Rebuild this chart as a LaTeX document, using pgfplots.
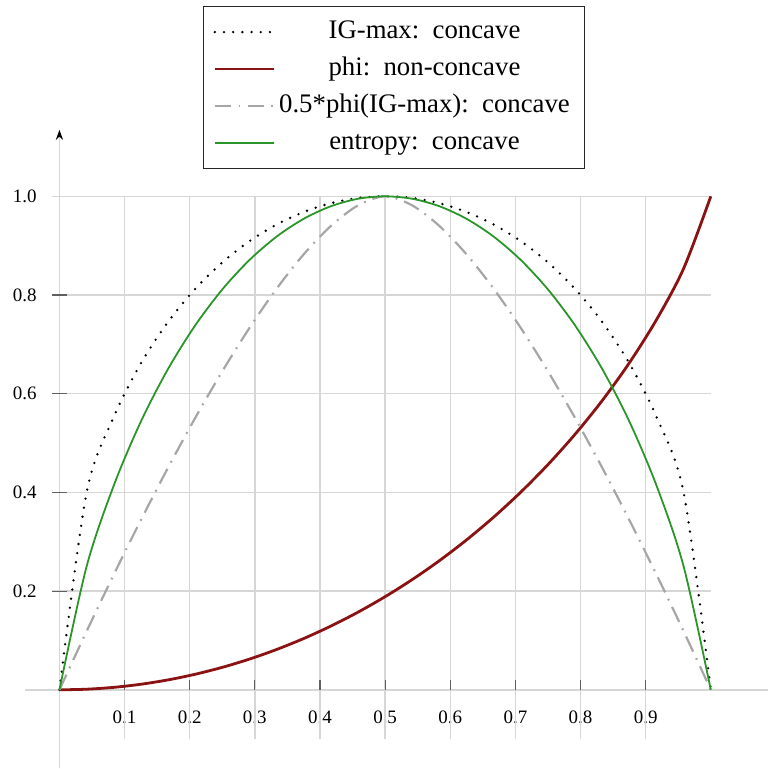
\documentclass[border=0pt]{standalone}
\usepackage{fontspec}
\setmainfont{Liberation Serif}
\usepackage{pgfplots}
\pgfplotsset{compat=1.18}
\usepackage{pgfplotstable}
\usetikzlibrary{arrows.meta}
\definecolor{gridc}{HTML}{D6D6D6}
\definecolor{tickc}{HTML}{606060}
\definecolor{myred}{HTML}{8B1212}
\definecolor{mygreen}{HTML}{2A962A}
\definecolor{mygray}{HTML}{A6A6A6}
\pgfplotstableread{
x        ig       phi      g        h
0        0        0        0        0
0.041667 0.399653 0.001252 0.118498 0.249883
0.083333 0.552771 0.005015 0.233288 0.413817
0.125    0.661438 0.011300 0.343941 0.543565
0.166667 0.745356 0.020131 0.449953 0.650023
0.208333 0.812233 0.031539 0.550699 0.738285
0.25     0.866025 0.045566 0.645422 0.811279
0.291667 0.909059 0.062265 0.733167 0.870865
0.333333 0.942809 0.081704 0.812703 0.918296
0.375    0.968246 0.103962 0.882381 0.954434
0.416667 0.986013 0.129135 0.939877 0.979869
0.458333 0.996522 0.157342 0.981551 0.994985
0.5      1        0.188721 1        1
0.541667 0.996522 0.223444 0.981551 0.994985
0.583333 0.986013 0.261715 0.939877 0.979869
0.625    0.968246 0.303788 0.882381 0.954434
0.666667 0.942809 0.349977 0.812703 0.918296
0.708333 0.909059 0.400685 0.733167 0.870865
0.75     0.866025 0.456435 0.645422 0.811279
0.791667 0.812233 0.517933 0.550699 0.738285
0.833333 0.745356 0.586183 0.449953 0.650023
0.875    0.661438 0.662709 0.343941 0.543565
0.916667 0.552771 0.750117 0.233288 0.413817
0.958333 0.399653 0.853905 0.118498 0.249883
1        0        1        0        0
}\data
\newcommand{\legtext}[1]{\makebox[142.5pt][c]{#1}}
\begin{document}
\begin{tikzpicture}
\begin{axis}[
  x=326pt, y=247pt,
  xmin=-0.0529, xmax=1.0882, ymin=-0.1589, ymax=1.1346,
  axis lines=middle,
  axis line style={draw=gridc, line width=0.75pt},
  x axis line style={-},
  y axis line style={-{Stealth[black,length=5pt,width=3.6pt]}},
  xtick={0.1,0.2,0.3,0.4,0.5,0.6,0.7,0.8,0.9},
  xticklabels={0.1,0.2,0.3,0.4,0.5,0.6,0.7,0.8,0.9},
  ytick={0.2,0.4,0.6,0.8,1.0},
  yticklabels={0.2,0.4,0.6,0.8,1.0},
  major tick length=0pt,
  tick style={draw=none},
  xticklabel style={font=\fontsize{9.5}{11}\selectfont, inner sep=0pt, anchor=center, yshift=-14pt},
  yticklabel style={font=\fontsize{9.5}{11}\selectfont, inner sep=0pt, anchor=east, xshift=-11.25pt},
  clip=false,
  legend style={
    at={(axis cs:0.2201,1.3856)}, anchor=north west,
    draw=black!85, line width=0.6pt,
    font=\fontsize{13.4}{16}\selectfont,
    inner xsep=5pt, inner ysep=6.5pt,
    row sep=6pt,
    nodes={inner sep=0pt, text height=9.5pt, text depth=3pt},
    /tikz/column 1/.style={column sep=3.5pt},
    /tikz/column 2/.style={nodes={text width=146.5pt, align=left}},
  },
  legend cell align=left,
  legend image code/.code={\draw[#1] (0pt,0pt) -- (29.5pt,0pt);},
]
\path (axis cs:-0.09126,-0.1589) rectangle (axis cs:1.0882,1.3978);
\pgfplotsinvokeforeach{0.1,0.2,0.3,0.4,0.5,0.6,0.7,0.8,0.9}{
  \draw[gridc, line width=0.75pt] (axis cs:#1,-0.1) -- (axis cs:#1,1.0);
  \draw[tickc, line width=0.6pt] (axis cs:#1,0) -- ++(0pt,5pt);
}
\pgfplotsinvokeforeach{0.2,0.4,0.6,0.8,1.0}{
  \draw[gridc, line width=0.75pt] (axis cs:-0.0115,#1) -- (axis cs:1,#1);
}
\pgfplotsinvokeforeach{0.2,0.4,0.6,0.8}{
  \draw[tickc, line width=0.6pt] (axis cs:0,#1) ++(-3.75pt,0pt) -- ++(7.5pt,0pt);
}
\addplot[black, smooth, line width=1.3pt, line cap=round, dash pattern=on 0pt off 4.6pt] table[x=x,y=ig] {\data};
\addlegendentry{\legtext{IG-max: concave}}
\addplot[myred, smooth, line width=1.4pt] table[x=x,y=phi] {\data};
\addlegendentry{\legtext{phi: non-concave}}
\addplot[mygray, smooth, line width=1.1pt, dash pattern=on 8.3pt off 3.6pt on 0.9pt off 3.6pt] table[x=x,y=g] {\data};
\addlegendentry{\legtext{0.5*phi(IG-max): concave}}
\addplot[mygreen, smooth, line width=0.9pt] table[x=x,y=h] {\data};
\addlegendentry{\legtext{entropy: concave}}
\end{axis}
\end{tikzpicture}
\end{document}
